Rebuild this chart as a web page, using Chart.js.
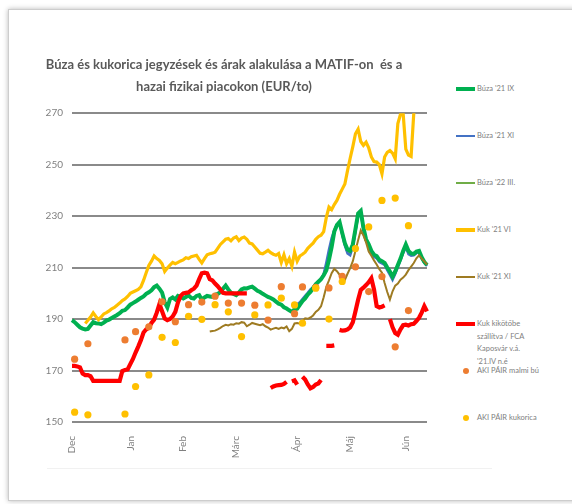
<!DOCTYPE html>
<html>
<head>
<meta charset="utf-8">
<script src="https://cdn.jsdelivr.net/npm/chart.js@4.4.1/dist/chart.umd.min.js"></script>
<style>
html,body{margin:0;padding:0;background:#fff;width:572px;height:504px;overflow:hidden;font-family:Lato,"Liberation Sans",sans-serif;}
#frame{position:absolute;left:8px;top:9px;width:600px;height:490px;border:1px solid #cdcdcd;box-shadow:0 0 5px rgba(0,0,0,0.28);background:#fff;}
#faint{position:absolute;left:47px;top:468px;width:445px;height:1px;background:#f1f1f1;}
#wrap{position:absolute;left:4px;top:0;width:441px;height:462px;}
#legend{position:absolute;left:456px;top:0;width:116px;height:504px;}
.item{position:absolute;left:0;width:116px;}
.mk{position:absolute;left:0;}
.tx{position:absolute;left:21px;top:-6px;font-size:7.5px;line-height:12.5px;color:#808080;white-space:pre-line;}
</style>
</head>
<body>
<div id="frame"></div>
<div id="faint"></div>
<div id="wrap"><canvas id="c" width="441" height="462"></canvas></div>
<div id="legend"></div>
<script>
// ---- categories (trading days, grouped by month) ----
const months = ['Dec','Jan','Feb','Márc','Ápr','Máj','Jún'];
const tradingDays = [22,20,20,23,20,21,9];
const yTicks = [150,170,190,210,230,250,270];

// ---- series (EUR/t) ----
const buza21IX = [189.6,188.8,187.8,186.8,186.3,186.0,186.2,187.5,188.8,188.4,
188.3,188.0,188.6,189.4,189.8,190.4,191.0,191.6,192.3,193.2,
193.5,194.5,195.6,196.2,196.8,197.5,198.2,198.8,199.8,200.4,
201.2,202.4,203.0,201.8,200.3,196.5,194.5,197.8,198.4,197.6,
199.0,198.6,198.0,198.6,199.2,198.2,198.0,199.0,199.3,197.6,
198.4,199.0,198.8,198.6,199.4,199.8,200.5,201.8,203.0,201.5,
200.2,199.8,199.3,200.3,201.5,202.0,201.9,202.3,202.6,201.8,
201.0,200.5,199.8,199.2,198.6,198.2,197.6,196.8,196.0,195.6,
194.6,194.1,193.4,192.8,193.8,194.0,195.5,197.0,198.0,199.5,
200.5,202.0,203.5,204.5,205.5,207.0,209.0,213.0,218.0,224.0,
226.5,227.7,223.5,219.5,217.0,216.5,219.0,225.0,231.0,232.0,
225.5,221.0,219.0,216.5,215.0,214.5,213.0,212.5,211.8,210.0,
208.5,206.5,208.5,211.0,213.5,216.5,219.0,216.5,215.5,215.3,
216.2,216.5,214.0,212.2,211.0];

const buza21XIStart = 84;
const buza21XI = [194.5,195.8,196.5,197.8,199.0,200.2,201.5,202.4,203.8,204.6,
205.5,207.5,212.0,217.0,221.5,224.5,226.8,227.2,222.8,218.5,
215.5,214.8,218.0,224.0,230.0,231.2,224.8,220.5,218.4,215.8,
214.2,213.6,212.2,211.6,211.0,209.0,207.2,205.2,207.5,210.2,
212.8,215.6,218.0,215.2,214.6,214.8,215.6,216.0,213.6,211.8,210.6];

const buza22IIIStart = 84;
const buza22III = [193.6,194.6,196.0,197.4,198.6,199.8,201.0,202.2,203.6,204.6,
205.5,207.2,210.5,215.0,219.8,224.2,226.6,227.4,223.2,219.0,
216.2,215.6,218.5,224.5,230.5,231.6,225.2,220.8,218.7,216.2,
214.6,214.0,212.6,212.0,211.4,209.5,207.8,205.8,208.0,210.6,
213.2,216.0,218.5,215.8,215.0,215.0,215.9,216.2,213.8,212.0,210.8];

const kuk21VIStart = 5;
const kuk21VI = [188.3,189.5,190.8,192.4,191.0,
189.8,190.8,192.0,192.5,193.2,194.0,194.5,195.4,196.2,197.2,
197.8,198.8,200.0,200.5,201.0,201.5,202.5,205.0,208.0,210.8,
212.5,214.5,213.5,212.8,211.5,208.5,209.8,211.0,212.0,211.5,
212.0,212.6,213.0,213.8,213.5,214.2,214.5,214.8,213.2,211.8,
213.5,215.0,215.4,215.6,216.0,217.5,219.0,220.0,221.0,221.3,
220.4,221.5,222.0,220.5,221.5,221.9,221.0,219.5,219.2,218.0,
216.8,215.6,215.4,216.0,216.7,215.8,215.2,214.8,215.5,212.0,
215.0,211.5,213.5,210.5,216.0,212.5,214.5,215.2,216.0,217.5,
218.5,219.5,221.0,222.0,222.6,224.0,229.5,233.5,232.5,234.5,
236.1,238.5,240.5,242.5,247.7,252.5,257.0,262.0,263.8,259.0,
257.5,258.7,256.5,253.0,251.2,251.0,250.0,246.4,253.0,254.8,
255.5,254.5,252.3,266.0,269.6,269.8,256.0,253.7,253.2,269.8,
273.0,274.0,275.0,276.0,277.0];

const kuk21XIStart = 52;
const kuk21XI = [185.2,185.4,185.5,186.0,186.6,187.3,187.8,187.5,
188.0,187.8,188.4,188.2,188.8,188.6,187.2,187.8,188.5,188.2,
187.9,187.6,188.0,187.2,186.7,185.9,186.3,186.6,186.2,186.7,
186.4,187.1,185.3,186.2,188.3,188.5,188.2,189.3,190.3,190.1,
190.6,191.4,192.8,193.6,195.0,198.5,202.5,205.0,207.8,209.5,
208.6,207.2,204.0,205.2,207.6,209.8,212.5,216.5,220.6,224.5,
222.5,219.8,216.2,214.6,212.8,211.2,209.4,208.0,204.0,200.5,
197.6,200.8,203.0,203.8,205.3,206.1,207.3,209.0,210.4,211.8,
213.6,214.8,213.5,212.4,211.2];

const kukKikoto = [171.8,171.8,171.6,171.2,168.8,168.2,168.2,167.8,166.0,166.0,
166.0,166.0,166.0,166.0,166.0,166.0,166.0,166.0,166.0,169.8,
170.2,170.4,172.5,174.5,177.0,179.3,181.8,184.8,186.0,186.6,
188.5,189.8,192.5,195.8,193.0,190.2,189.6,190.0,191.0,192.8,
196.5,199.0,200.0,200.2,200.4,201.2,201.8,203.0,205.5,207.8,
208.0,207.8,205.5,205.0,203.8,202.8,201.5,200.2,200.0,200.0,
200.0,200.0,200.0,200.0,200.0,200.0,200.0,null,null,null,
null,null,null,null,null,163.2,163.8,164.2,164.3,164.4,
164.8,165.6,null,165.8,166.2,164.5,null,167.6,166.5,164.6,
163.1,163.6,164.6,165.0,166.3,null,179.6,179.6,179.6,179.8,
null,185.8,185.5,185.6,186.0,186.8,188.8,193.0,197.5,201.3,
202.2,203.2,204.3,205.8,201.5,195.0,194.5,194.8,195.3,null,
190.0,186.8,184.6,183.9,186.0,187.6,187.8,187.5,188.0,188.2,
189.2,190.5,192.5,195.0,193.0];

// weekly AKI PÁIR quotations (trading-day index of each week, values)
const akiDays = [1,6,20,24,29,34,39,44,49,54,59,64,69,74,79,84,87,92,97,102,107,112,117,122,127];
const akiMalmiBuza = [174.4,180.4,181.9,185.1,187.0,196.7,189.0,195.6,196.6,198.9,196.2,196.2,195.4,189.6,202.6,192.1,202.5,202.3,202.1,206.6,210.3,200.7,206.5,179.2,193.3];
const akiKukorica = [153.8,152.8,153.1,163.8,168.3,182.9,180.9,191.1,189.9,195.6,192.8,183.2,191.6,195.5,198.1,195.5,188.4,202.0,190.0,204.6,217.4,225.8,236.1,237.0,226.3];

// ---- build category labels and padded data arrays ----
const labels = [], tickText = [];
months.forEach((m, k) => {
  for (let d = 0; d < tradingDays[k]; d++) {
    labels.push(m + ' ' + (d + 1));
    tickText.push(d === 0 ? m : '');
  }
});
const N = labels.length;
function pad(start, vals) {
  const out = new Array(N).fill(null);
  vals.forEach((v, j) => { out[start + j] = v; });
  return out;
}
function weekly(days, vals) {
  const out = new Array(N).fill(null);
  days.forEach((d, j) => { out[d] = vals[j]; });
  return out;
}

const datasets = [
  {label:"Búza '21 IX", data: pad(0, buza21IX), borderColor:'#00B050', borderWidth:4, order:6, lg:{w:4}},
  {label:"Búza '21 XI", data: pad(buza21XIStart, buza21XI), borderColor:'#4472C4', borderWidth:2.5, order:7, lg:{w:2.5}},
  {label:"Búza '22 III.", data: pad(buza22IIIStart, buza22III), borderColor:'#70AD47', borderWidth:2.5, order:8, lg:{w:2.5}},
  {label:"Kuk '21 VI", data: pad(kuk21VIStart, kuk21VI), borderColor:'#FFC000', borderWidth:3.2, order:5, lg:{w:3.5}},
  {label:"Kuk '21 XI", data: pad(kuk21XIStart, kuk21XI), borderColor:'#9E7B22', borderWidth:2, order:4, lg:{w:2.5}},
  {label:"Kuk kikötőbe\nszállítva / FCA\nKaposvár v.á.\n'21.IV n.é", data: kukKikoto, borderColor:'#FF0000', borderWidth:4.2, order:3, lg:{w:4.5}},
  {label:"AKI PÁIR malmi bú", data: weekly(akiDays, akiMalmiBuza), borderColor:'#ED7D31', backgroundColor:'#ED7D31', showLine:false, pointRadius:3.6, order:2, lg:{dot:true}},
  {label:"AKI PÁIR kukorica", data: weekly(akiDays, akiKukorica), borderColor:'#FFC000', backgroundColor:'#FFC000', showLine:false, pointRadius:3.6, order:1, lg:{dot:true}}
];
datasets.forEach(ds => {
  ds.fill = false; ds.tension = 0; ds.spanGaps = false;
  if (ds.pointRadius === undefined) ds.pointRadius = 0;
  ds.pointBorderWidth = 0; ds.pointHoverRadius = 0;
});

new Chart(document.getElementById('c'), {
  type: 'line',
  data: { labels: labels, datasets: datasets },
  options: {
    responsive: false,
    animation: false,
    events: [],
    layout: { padding: { left: 0, right: 1, top: 0, bottom: 0 } },
    plugins: {
      legend: { display: false },
      tooltip: { enabled: false },
      title: {
        display: true,
        text: ['Búza és kukorica jegyzések és árak alakulása a MATIF-on  és a', 'hazai fizikai piacokon (EUR/to)'],
        color: '#595959',
        font: { family: 'Lato', size: 13, weight: 'bold', lineHeight: 1.7 },
        padding: { top: 54, bottom: 15 }
      }
    },
    scales: {
      x: {
        grid: { display: false },
        border: { display: false },
        ticks: {
          autoSkip: false, maxRotation: 90, minRotation: 90,
          color: '#808080', font: { family: 'Lato', size: 10 }, padding: 6,
          callback: (v, i) => tickText[i]
        },
        afterFit: s => { s.height = 40; }
      },
      y: {
        min: 150, max: 270,
        afterBuildTicks: s => { s.ticks = yTicks.map(v => ({ value: v })); },
        ticks: { color: '#808080', font: { family: 'Lato', size: 10 }, padding: 9 },
        grid: { color: '#8a8a8a', lineWidth: 2, drawTicks: false },
        border: { display: false },
        afterFit: s => { s.width = 68; }
      }
    }
  }
});

// ---- legend ----
const lg = document.getElementById('legend');
datasets.forEach((ds, k) => {
  const item = document.createElement('div');
  item.className = 'item';
  item.style.top = (89 + 47 * k) + 'px';
  const mk = document.createElement('div');
  mk.className = 'mk';
  if (ds.lg.dot) {
    mk.style.left = '7px'; mk.style.top = '-3px';
    mk.style.width = '6px'; mk.style.height = '6px';
    mk.style.borderRadius = '50%';
    mk.style.background = ds.backgroundColor;
  } else {
    mk.style.width = '19px'; mk.style.height = ds.lg.w + 'px';
    mk.style.top = (-ds.lg.w / 2) + 'px';
    mk.style.background = ds.borderColor;
  }
  const tx = document.createElement('div');
  tx.className = 'tx';
  tx.textContent = ds.label;
  item.appendChild(mk); item.appendChild(tx);
  lg.appendChild(item);
});
</script>
</body>
</html>
